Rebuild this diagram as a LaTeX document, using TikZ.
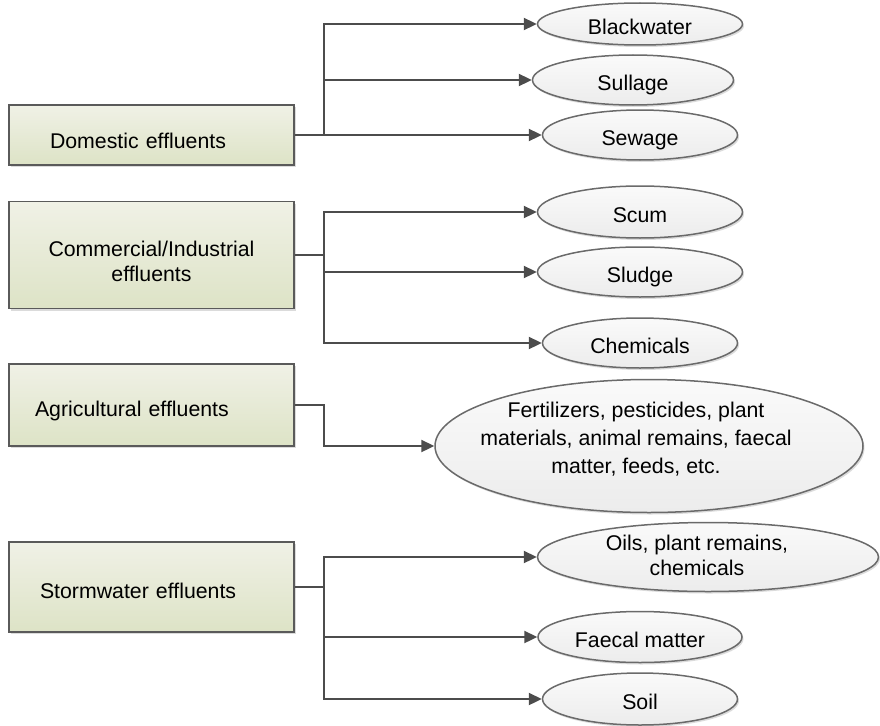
\documentclass[tikz,border=0pt]{standalone}
\usepackage{fontspec}
\setmainfont{Liberation Sans}
\usetikzlibrary{arrows.meta,shapes.geometric,shadows}

\definecolor{boxline}{HTML}{5A5A5A}
\definecolor{boxtop}{HTML}{F0F1E6}
\definecolor{boxbot}{HTML}{DDE3C6}
\definecolor{leafline}{HTML}{6A6A6A}
\definecolor{leaftop}{HTML}{FAFAFA}
\definecolor{leafbot}{HTML}{ECECEC}
\definecolor{wire}{HTML}{4C4C4C}

\begin{document}
\begin{tikzpicture}[x=1pt,y=-1pt,
  softshadow/.style={drop shadow={shadow xshift=1.5pt,shadow yshift=-2pt,fill=black,opacity=0.14}},
  srcbox/.style={rectangle, draw=boxline, line width=1.6pt,
    top color=boxtop, bottom color=boxbot, softshadow,
    minimum width=285pt, align=left,
    font=\fontsize{21.3}{24}\selectfont},
  leaf/.style={ellipse, draw=leafline, line width=1.5pt,
    top color=leaftop, bottom color=leafbot, softshadow,
    inner sep=0pt, text height=21pt, text depth=0pt,
    font=\fontsize{21.3}{24}\selectfont},
  leafnote/.style={align=center, inner sep=0pt},
  link/.style={draw=wire, line width=2.3pt},
  feed/.style={link, -{Triangle[length=13pt,width=12pt]}}]

\useasboundingbox (0,0) rectangle (880,725);

% source categories
\node[srcbox, minimum height=60pt, inner xsep=41pt, text width=203pt,
      text height=29pt, text depth=1.8pt] (dom) at (151.5,135) {Domestic effluents};
\node[srcbox, minimum height=107pt, inner xsep=20pt, text width=245pt, align=center,
      font=\fontsize{21.3}{24.5}\selectfont,
      text height=20pt, text depth=16.3pt] (com) at (151.5,255) {Commercial/Industrial\\effluents};
\node[srcbox, minimum height=82pt, inner xsep=26pt, text width=233pt,
      text height=25pt, text depth=1.8pt] (agr) at (151.5,405) {Agricultural effluents};
\node[srcbox, minimum height=90pt, inner xsep=31pt, text width=223pt,
      text height=25pt, text depth=1.8pt] (sto) at (151.5,587) {Stormwater effluents};

% effluent components
\node[leaf, minimum width=205pt, minimum height=42pt] (bw)   at (640,24)  {Blackwater};
\node[leaf, minimum width=201pt, minimum height=50pt] (sul)  at (633,80)  {Sullage};
\node[leaf, minimum width=195pt, minimum height=50pt] (sew)  at (640,135) {Sewage};

\node[leaf, minimum width=205pt, minimum height=52pt] (scum) at (640,212) {Scum};
\node[leaf, minimum width=205pt, minimum height=50pt] (sld)  at (640,272) {Sludge};
\node[leaf, minimum width=195pt, minimum height=50pt] (chem) at (640,343) {Chemicals};

\node[leaf, minimum width=428pt, minimum height=133pt] (agri) at (649,446) {};
\node[leafnote, font=\fontsize{21.3}{28}\selectfont] (agritxt)
  at ([xshift=-13pt,yshift=7pt]agri.center)
  {Fertilizers, pesticides, plant\\materials, animal remains, faecal\\matter, feeds, etc.};

\node[leaf, minimum width=341pt, minimum height=69pt] (oils) at (708,557) {};
\node[leafnote, font=\fontsize{21.3}{25}\selectfont] (oilstxt)
  at ([xshift=-11pt,yshift=2pt]oils.center)
  {Oils, plant remains,\\chemicals};
\node[leaf, minimum width=204pt, minimum height=51pt] (fae)  at (640,637) {Faecal matter};
\node[leaf, minimum width=195pt, minimum height=52pt] (soil) at (640,699) {Soil};

% branching junctions
\coordinate (jd) at (324,135);
\coordinate (jc) at (324,255);
\coordinate (ja) at (324,405);
\coordinate (js) at (324,587);

% domestic
\draw[link] (dom.east) -- (jd);
\draw[feed] (jd) |- (bw.west);
\draw[feed] (jd) |- (sul.west);
\draw[feed] (jd) -- (sew.west);

% commercial / industrial
\draw[link] (com.east) -- (jc);
\draw[feed] (jc) |- (scum.west);
\draw[feed] (jc) |- (sld.west);
\draw[feed] (jc) |- (chem.west);

% agricultural
\draw[feed] (agr.east) -- (ja) |- (agri.west);

% stormwater
\draw[link] (sto.east) -- (js);
\draw[feed] (js) |- (oils.west);
\draw[feed] (js) |- (fae.west);
\draw[feed] (js) |- (soil.west);
\end{tikzpicture}
\end{document}
